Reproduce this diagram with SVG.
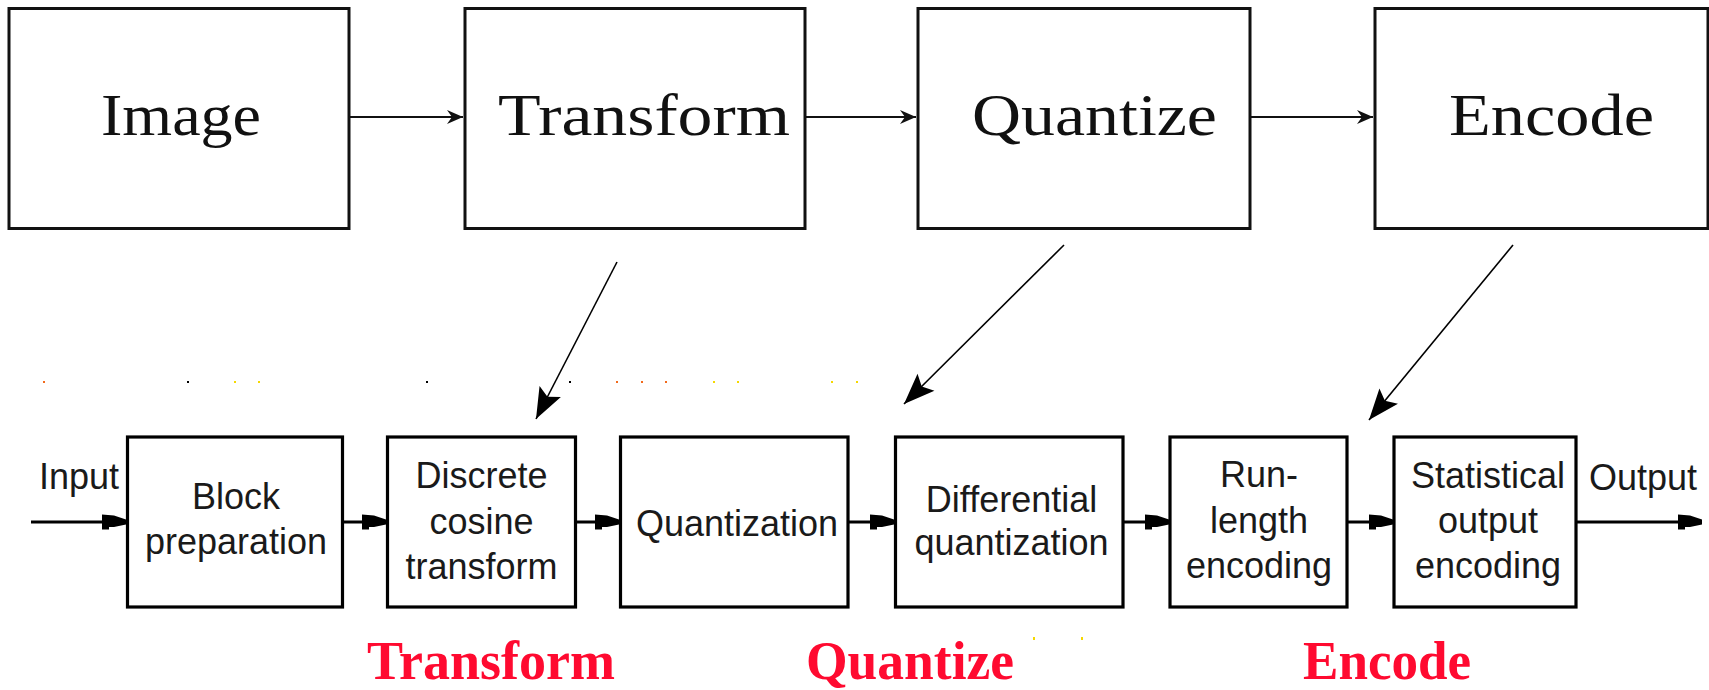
<svg xmlns="http://www.w3.org/2000/svg" width="1709" height="690" viewBox="0 0 1709 690">
<defs>
<style>
.tbox{fill:#fff;stroke:#111;stroke-width:3}
.bbox{fill:#fff;stroke:#000;stroke-width:3.2}
.ttext{font-family:"Liberation Serif","Times New Roman",serif;font-size:60px;fill:#111}
.btext{font-family:"Liberation Sans",Arial,sans-serif;font-size:36px;fill:#1a1a1a;text-anchor:middle}
.rtext{font-family:"Liberation Serif","Times New Roman",serif;font-size:55px;font-weight:bold;fill:#ff0a30}
.tcon{stroke:#111;stroke-width:2.2;fill:none}
.bcon{stroke:#000;stroke-width:3;fill:none}
.dcon{stroke:#000;stroke-width:1.6;fill:none}
</style>
<marker id="tArrow" markerUnits="userSpaceOnUse" markerWidth="20" markerHeight="16" viewBox="-17 -8 18 16" refX="0" refY="0" orient="auto">
<path d="M0,0 L-16,-7 L-11,0 L-16,7 Z" fill="#111"/>
</marker>
<marker id="bArrow" markerUnits="userSpaceOnUse" markerWidth="26" markerHeight="18" viewBox="-25 -9 26 18" refX="0" refY="0" orient="auto">
<path d="M-24,-7.5 L-12,-6.5 L0,-2.5 L0,2.5 L-12,5 L-17,5 L-17,7.5 L-24,7.5 Z" fill="#000"/>
</marker>
<marker id="dArrow" markerUnits="userSpaceOnUse" markerWidth="34" markerHeight="28" viewBox="-33 -14 34 28" refX="0" refY="0" orient="auto">
<path d="M0,0 L-31,-12 L-25,0 L-31,12 Z" fill="#000"/>
</marker>
</defs>
<rect x="0" y="0" width="1709" height="690" fill="#fff"/>

<g id="connectors">
<line class="tcon" x1="349" y1="117" x2="463" y2="117" marker-end="url(#tArrow)"/>
<line class="tcon" x1="805" y1="117" x2="916" y2="117" marker-end="url(#tArrow)"/>
<line class="tcon" x1="1250" y1="117" x2="1373" y2="117" marker-end="url(#tArrow)"/>
<line class="dcon" x1="617" y1="262" x2="536" y2="419" marker-end="url(#dArrow)"/>
<line class="dcon" x1="1064" y1="245" x2="904" y2="404" marker-end="url(#dArrow)"/>
<line class="dcon" x1="1513" y1="245" x2="1369" y2="420" marker-end="url(#dArrow)"/>
<line class="bcon" x1="31" y1="522" x2="126" y2="522" marker-end="url(#bArrow)"/>
<line class="bcon" x1="342" y1="522" x2="386" y2="522" marker-end="url(#bArrow)"/>
<line class="bcon" x1="576" y1="522" x2="619" y2="522" marker-end="url(#bArrow)"/>
<line class="bcon" x1="848" y1="522" x2="894" y2="522" marker-end="url(#bArrow)"/>
<line class="bcon" x1="1123" y1="522" x2="1169" y2="522" marker-end="url(#bArrow)"/>
<line class="bcon" x1="1347" y1="522" x2="1393" y2="522" marker-end="url(#bArrow)"/>
<line class="bcon" x1="1576" y1="522" x2="1702" y2="522" marker-end="url(#bArrow)"/>
</g>

<g id="node-image">
<rect class="tbox" x="9" y="8.5" width="340" height="220"/>
<text class="ttext" x="101" y="135" textLength="160" lengthAdjust="spacingAndGlyphs">Image</text>
</g>
<g id="node-transform">
<rect class="tbox" x="465" y="8.5" width="340" height="220"/>
<text class="ttext" x="498" y="135" textLength="292" lengthAdjust="spacingAndGlyphs">Transform</text>
</g>
<g id="node-quantize">
<rect class="tbox" x="918" y="8.5" width="332" height="220"/>
<text class="ttext" x="972" y="135" textLength="245" lengthAdjust="spacingAndGlyphs">Quantize</text>
</g>
<g id="node-encode">
<rect class="tbox" x="1375" y="8.5" width="333" height="220"/>
<text class="ttext" x="1449" y="135" textLength="205" lengthAdjust="spacingAndGlyphs">Encode</text>
</g>

<g id="label-input">
<text class="btext" x="79" y="489">Input</text>
</g>
<g id="node-block">
<rect class="bbox" x="127.5" y="437" width="215" height="170"/>
<text class="btext" x="236" y="509">Block</text>
<text class="btext" x="236" y="554">preparation</text>
</g>
<g id="node-dct">
<rect class="bbox" x="387.5" y="437" width="188" height="170"/>
<text class="btext" x="481.5" y="488">Discrete</text>
<text class="btext" x="481.5" y="534">cosine</text>
<text class="btext" x="481.5" y="579">transform</text>
</g>
<g id="node-quantization">
<rect class="bbox" x="620.5" y="437" width="227.5" height="170"/>
<text class="btext" x="737" y="536">Quantization</text>
</g>
<g id="node-differential">
<rect class="bbox" x="895.5" y="437" width="227.5" height="170"/>
<text class="btext" x="1011.5" y="512">Differential</text>
<text class="btext" x="1011.5" y="555">quantization</text>
</g>
<g id="node-runlength">
<rect class="bbox" x="1170" y="437" width="177" height="170"/>
<text class="btext" x="1259" y="487">Run-</text>
<text class="btext" x="1259" y="533">length</text>
<text class="btext" x="1259" y="578">encoding</text>
</g>
<g id="node-statistical">
<rect class="bbox" x="1394" y="437" width="182" height="170"/>
<text class="btext" x="1488" y="488">Statistical</text>
<text class="btext" x="1488" y="533">output</text>
<text class="btext" x="1488" y="578">encoding</text>
</g>
<g id="label-output">
<text class="btext" x="1643" y="490">Output</text>
</g>

<g id="red-labels">
<text class="rtext" x="367" y="679" textLength="248" lengthAdjust="spacingAndGlyphs">Transform</text>
<text class="rtext" x="806" y="679" textLength="208" lengthAdjust="spacingAndGlyphs">Quantize</text>
<text class="rtext" x="1303" y="679" textLength="168" lengthAdjust="spacingAndGlyphs">Encode</text>
</g>

<g id="specks">
<rect x="43" y="381" width="2" height="2" fill="#f26a1b"/>
<rect x="187" y="381" width="2" height="2" fill="#000"/>
<rect x="234" y="381" width="2" height="2" fill="#f5d800"/>
<rect x="258" y="381" width="2" height="2" fill="#f5d800"/>
<rect x="426" y="381" width="2" height="2" fill="#000"/>
<rect x="569" y="381" width="2" height="2" fill="#000"/>
<rect x="616" y="381" width="2" height="2" fill="#f26a1b"/>
<rect x="641" y="381" width="2" height="2" fill="#f26a1b"/>
<rect x="665" y="381" width="2" height="2" fill="#f26a1b"/>
<rect x="713" y="381" width="2" height="2" fill="#f5d800"/>
<rect x="737" y="381" width="2" height="2" fill="#f5d800"/>
<rect x="831" y="381" width="2" height="2" fill="#f5d800"/>
<rect x="856" y="381" width="2" height="2" fill="#f5d800"/>
<rect x="1033" y="637" width="2" height="3" fill="#f5d800"/>
<rect x="1081" y="637" width="2" height="3" fill="#f5d800"/>
</g>
</svg>
